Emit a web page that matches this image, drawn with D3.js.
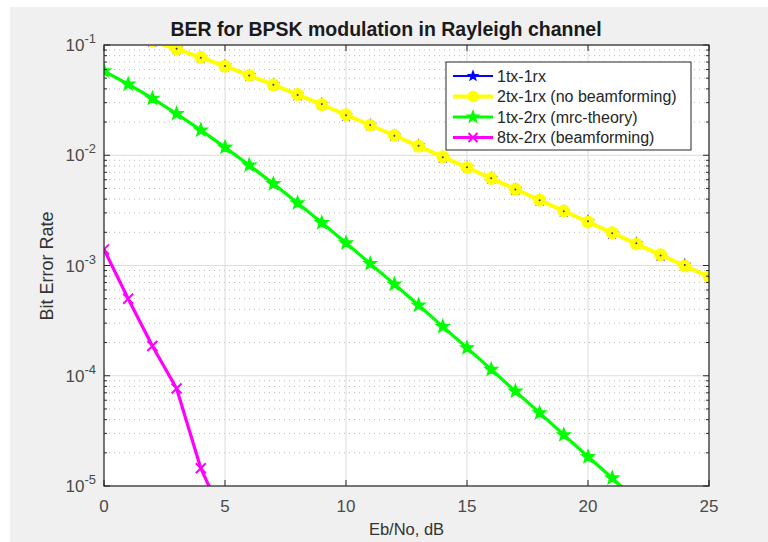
<!DOCTYPE html>
<html><head><meta charset="utf-8">
<script src="https://cdn.jsdelivr.net/npm/d3@7"></script>
<style>
html,body{margin:0;padding:0;background:#fff;}
svg{display:block;font-family:Arial,"Liberation Sans",sans-serif;}
</style></head>
<body>
<svg id="chart" width="768" height="542"></svg>
<script>
// ---- data ----
const ebno = [0,1,2,3,4,5,6,7,8,9,10,11,12,13,14,15,16,17,18,19,20,21,22,23,24,25];
const ber1tx1rx = [0.146,0.127,0.108,0.0925,0.0765,0.0645,0.0528,0.0437,0.0352,0.0291,0.0231,0.0188,0.0150,0.0122,0.0096,0.0078,0.0062,0.0049,0.0039,0.0031,0.00252,0.00196,0.00159,0.00123,0.00101,0.00079];
const ber2tx1rx = [0.1464,0.1267,0.1085,0.0919,0.0771,0.0642,0.0530,0.0435,0.0355,0.0288,0.0233,0.0187,0.0151,0.0121,0.00967,0.00774,0.00617,0.00492,0.00392,0.00312,0.00248,0.00198,0.00157,0.00125,0.00099,0.00079];
const ber1tx2rx = [0.0580,0.0441,0.0328,0.0238,0.0169,0.0118,0.00813,0.00551,0.00369,0.00244,0.00160,0.00104,0.000677,0.000436,0.000279,0.000179,0.000114,0.0000724,0.0000460,0.0000291,0.0000184,0.0000118,0.0000074,0.0000047,0.0000029,0.0000019];
const ebnoBf = [0,1,2,3,4,5];
const ber8tx2rx = [0.00140,0.00050,0.000186,0.0000766,0.0000145,0.0000048];
const legendLabels = ["1tx-1rx","2tx-1rx (no beamforming)","1tx-2rx (mrc-theory)","8tx-2rx (beamforming)"];
const xTicks = [0,5,10,15,20,25];
const yTickExp = [-1,-2,-3,-4,-5];
const titleText = "BER for BPSK modulation in Rayleigh channel";
const xLabel = "Eb/No, dB";
const yLabel = "Bit Error Rate";

// ---- layout ----
const svg = d3.select("#chart");
const L = 104, R = 709, T = 45, B = 486;
svg.append("rect").attr("x",10).attr("y",7).attr("width",758).attr("height",535).attr("fill","#f0f0f0");

const x = d3.scaleLinear().domain([0,25]).range([L,R]);
const y = d3.scaleLog().domain([1e-5,1e-1]).range([B,T]);

svg.append("rect").attr("x",L).attr("y",T).attr("width",R-L).attr("height",B-T).attr("fill","#fff");

// minor grid
const minorVals = [];
for (let e=-5; e<-1; e++) for (let m=2; m<=9; m++) minorVals.push(m*Math.pow(10,e));
svg.append("g").selectAll("line").data(minorVals).join("line")
  .attr("x1",L).attr("x2",R).attr("y1",d=>y(d)).attr("y2",d=>y(d))
  .attr("stroke","#b8b8b8").attr("stroke-width",1).attr("stroke-dasharray","1,4");
// major grid
svg.append("g").selectAll("line").data(yTickExp).join("line")
  .attr("x1",L).attr("x2",R).attr("y1",d=>y(Math.pow(10,d))).attr("y2",d=>y(Math.pow(10,d)))
  .attr("stroke","#dcdcdc").attr("stroke-width",1);
svg.append("g").selectAll("line").data(xTicks).join("line")
  .attr("y1",T).attr("y2",B).attr("x1",d=>x(d)).attr("x2",d=>x(d))
  .attr("stroke","#dcdcdc").attr("stroke-width",1);

// clip
svg.append("clipPath").attr("id","clip").append("rect").attr("x",L).attr("y",T).attr("width",R-L).attr("height",B-T);
const plot = svg.append("g").attr("clip-path","url(#clip)");

function starPath(cx,cy,Ro){
  const Ri = Ro*0.42; let p="";
  for(let i=0;i<10;i++){
    const r = i%2===0?Ro:Ri; const a = -Math.PI/2 + i*Math.PI/5;
    p += (i===0?"M":"L") + (cx+r*Math.cos(a)).toFixed(2)+","+(cy+r*Math.sin(a)).toFixed(2);
  }
  return p+"Z";
}
function xPath(cx,cy,s){
  return `M${cx-s},${cy-s}L${cx+s},${cy+s}M${cx-s},${cy+s}L${cx+s},${cy-s}`;
}
const line = d3.line().x(d=>x(d[0])).y(d=>y(d[1]));

const series = [
  {xs:ebno, ys:ber1tx1rx, color:"#0000ff", w:2, marker:"star", ms:5},
  {xs:ebno, ys:ber2tx1rx, color:"#ffff00", w:4, marker:"circle", ms:6},
  {xs:ebno, ys:ber1tx2rx, color:"#00ff00", w:3.2, marker:"star", ms:6.5},
  {xs:ebnoBf, ys:ber8tx2rx, color:"#ff00ff", w:3.2, marker:"x", ms:5}
];
function drawMarker(g,s,cx,cy,scale){
  const ms = s.ms*(scale||1);
  if (s.marker==="star") g.append("path").attr("d",starPath(cx,cy,ms)).attr("fill",s.color).attr("stroke",s.color).attr("stroke-width",1.5);
  else if (s.marker==="circle") g.append("circle").attr("cx",cx).attr("cy",cy).attr("r",ms).attr("fill",s.color).attr("stroke",s.color);
  else g.append("path").attr("d",xPath(cx,cy,ms)).attr("stroke",s.color).attr("stroke-width",2).attr("fill","none");
}
series.forEach(s=>{
  const pts = s.xs.map((v,i)=>[v,s.ys[i]]);
  plot.append("path").datum(pts).attr("d",line).attr("fill","none").attr("stroke",s.color).attr("stroke-width",s.w).attr("stroke-linejoin","round");
  const g = plot.append("g");
  pts.forEach(p=>drawMarker(g,s,x(p[0]),y(p[1])));
});
// blue centre dots visible through yellow markers
plot.append("g").selectAll("circle").data(ebno.map((v,i)=>[v,ber1tx1rx[i]])).join("circle")
  .attr("cx",d=>x(d[0])).attr("cy",d=>y(d[1])).attr("r",1).attr("fill","#3030a0");

// axes box & ticks
const axisColor = "#262626";
svg.append("rect").attr("x",L).attr("y",T).attr("width",R-L).attr("height",B-T).attr("fill","none").attr("stroke",axisColor).attr("stroke-width",1.2);
const tg = svg.append("g").attr("stroke",axisColor).attr("stroke-width",1);
yTickExp.forEach(e=>{
  const yy = y(Math.pow(10,e));
  tg.append("line").attr("x1",L).attr("x2",L+6).attr("y1",yy).attr("y2",yy);
  tg.append("line").attr("x1",R).attr("x2",R-6).attr("y1",yy).attr("y2",yy);
});
minorVals.forEach(v=>{
  const yy = y(v);
  tg.append("line").attr("x1",L).attr("x2",L+3).attr("y1",yy).attr("y2",yy);
  tg.append("line").attr("x1",R).attr("x2",R-3).attr("y1",yy).attr("y2",yy);
});
xTicks.forEach(t=>{
  tg.append("line").attr("x1",x(t)).attr("x2",x(t)).attr("y1",B).attr("y2",B-6);
  tg.append("line").attr("x1",x(t)).attr("x2",x(t)).attr("y1",T).attr("y2",T+6);
});

// tick labels
const labelColor = "#4a4a4a";
svg.append("g").selectAll("text").data(xTicks).join("text")
  .attr("x",d=>x(d)).attr("y",512).attr("text-anchor","middle")
  .attr("font-size",17).attr("fill",labelColor).text(d=>d);
yTickExp.forEach(e=>{
  const t = svg.append("text").attr("x",96).attr("y",y(Math.pow(10,e))+6).attr("text-anchor","end")
    .attr("font-size",17).attr("fill",labelColor);
  t.append("tspan").text("10");
  t.append("tspan").attr("dy",-8).attr("font-size",13).text(String(e));
});

// title and axis labels
svg.append("text").attr("x",386).attr("y",36).attr("text-anchor","middle").attr("font-size",19.5)
  .attr("font-weight","bold").attr("fill","#1a1a1a").text(titleText);
svg.append("text").attr("x",(L+R)/2).attr("y",535).attr("text-anchor","middle").attr("font-size",16.5)
  .attr("fill","#333").text(xLabel);
svg.append("text").attr("transform","translate(53,266) rotate(-90)").attr("text-anchor","middle")
  .attr("font-size",18).attr("fill","#333").text(yLabel);

// legend
const lg = svg.append("g");
lg.append("rect").attr("x",446).attr("y",62).attr("width",245).attr("height",88).attr("fill","#fff").attr("stroke",axisColor).attr("stroke-width",1);
series.forEach((s,i)=>{
  const yy = 76 + i*20.5;
  lg.append("line").attr("x1",453).attr("x2",493).attr("y1",yy).attr("y2",yy).attr("stroke",s.color).attr("stroke-width",s.w);
  drawMarker(lg,s,473,yy,0.9);
  lg.append("text").attr("x",497).attr("y",yy+5.5).attr("font-size",16).attr("fill","#262626").text(legendLabels[i]);
});
</script>
</body></html>
